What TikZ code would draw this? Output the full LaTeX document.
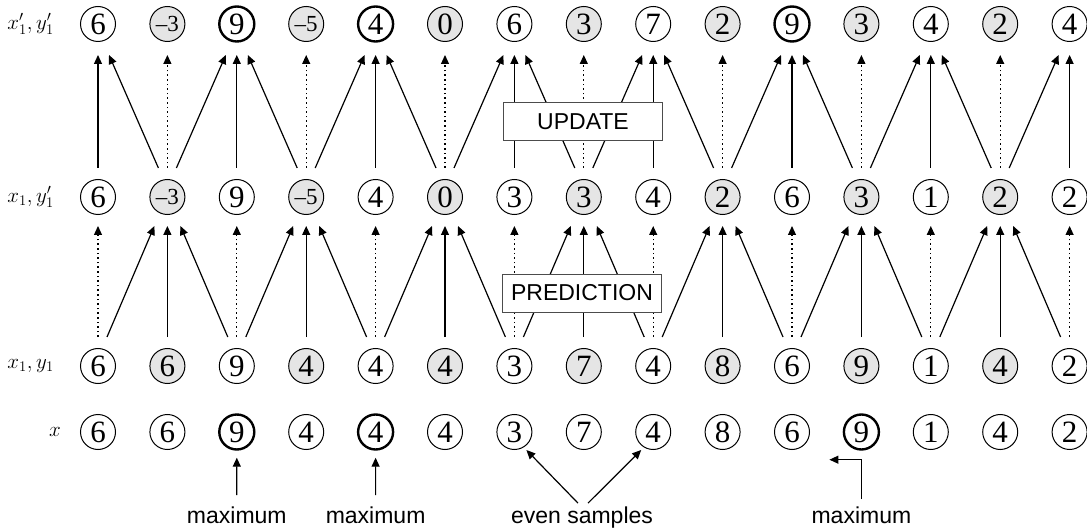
\RequirePackage{fix-cm}
\documentclass[tikz,border=0pt]{standalone}
\usepackage{fontspec}
\newfontfamily\numfont{Liberation Serif}
\newfontfamily\labfont{Liberation Sans}
\usetikzlibrary{arrows.meta,calc}

\begin{document}
\begin{tikzpicture}[x=1pt,y=-1pt,
  smp/.style={circle,draw,line width=1pt,minimum size=35pt,inner sep=0pt,
    font=\numfont\fontsize{31}{31}\selectfont},
  wh/.style={},
  gr/.style={fill=gray!20},
  gn/.style={gr,font=\numfont\fontsize{23}{23}\selectfont},
  pk/.style={line width=2.4pt},
  arr/.style={line width=1.2pt,-{Triangle[length=9pt,width=8pt]}},
  dotarr/.style={arr,dash pattern=on 1.6pt off 3pt},
  stage/.style={draw=black!70,fill=white,line width=0.9pt,minimum width=159pt,
    minimum height=38pt,inner sep=0pt,font=\labfont\fontsize{23}{23}\selectfont},
  note/.style={font=\labfont\fontsize{23}{23}\selectfont,inner sep=0pt,anchor=base},
  rowlab/.style={anchor=east,inner sep=0pt,font=\fontsize{21}{21}\selectfont}
]
\useasboundingbox (0,0) rectangle (1087,529);

% sample rows: t = x1',y1'   u = x1,y1'   p = x1,y1   s = x
\foreach \v/\st [count=\i] in {6/wh,\textendash 3/gn,9/pk,\textendash 5/gn,4/pk,0/gr,6/wh,3/gr,7/wh,2/gr,9/pk,3/gr,4/wh,2/gr,4/wh}
  \node[smp,\st] (t\i) at ({98+(\i-1)*69.4},24) {\v};
\foreach \v/\st [count=\i] in {6/wh,\textendash 3/gn,9/wh,\textendash 5/gn,4/wh,0/gr,3/wh,3/gr,4/wh,2/gr,6/wh,3/gr,1/wh,2/gr,2/wh}
  \node[smp,\st] (u\i) at ({98+(\i-1)*69.4},197) {\v};
\foreach \v/\st [count=\i] in {6/wh,6/gr,9/wh,4/gr,4/wh,4/gr,3/wh,7/gr,4/wh,8/gr,6/wh,9/gr,1/wh,4/gr,2/wh}
  \node[smp,\st] (p\i) at ({98+(\i-1)*69.4},366) {\v};
\foreach \v/\st [count=\i] in {6/wh,6/wh,9/pk,4/wh,4/pk,4/wh,3/wh,7/wh,4/wh,8/wh,6/wh,9/pk,1/wh,4/wh,2/wh}
  \node[smp,\st] (s\i) at ({98+(\i-1)*69.4},432) {\v};

% row labels
\node[rowlab] (l1) at (54,24) {$x_1',y_1'$};
\node[rowlab] (l2) at (54,197) {$x_1,y_1'$};
\node[rowlab] (l3) at (54,366) {$x_1,y_1$};
\node[rowlab] (l4) at (61,432) {$x$};

% prediction: odd samples from their neighbours, even samples copied
\foreach \j [evaluate=\j as \jm using int(\j-1), evaluate=\j as \jp using int(\j+1)] in {2,4,...,14} {
  \draw[arr] ($(p\jm)+(9,-29)$) -- ($(u\j)+(-13,29)$);
  \draw[arr] ($(p\j)+(0,-29)$) -- ($(u\j)+(0,29)$);
  \draw[arr] ($(p\jp)+(-9,-29)$) -- ($(u\j)+(13,29)$);
}
\foreach \j in {1,3,...,15}
  \draw[dotarr] ($(p\j)+(0,-29)$) -- ($(u\j)+(0,29)$);

% update: even samples from their neighbours, odd samples copied
\foreach \j [evaluate=\j as \jm using int(\j-1), evaluate=\j as \jp using int(\j+1)] in {1,3,...,15} {
  \ifnum\j>1 \draw[arr] ($(u\jm)+(9,-29)$) -- ($(t\j)+(-11,31)$); \fi
  \draw[arr] ($(u\j)+(0,-29)$) -- ($(t\j)+(0,31)$);
  \ifnum\j<15 \draw[arr] ($(u\jp)+(-9,-29)$) -- ($(t\j)+(11,31)$); \fi
}
\foreach \j in {2,4,...,14}
  \draw[dotarr] ($(u\j)+(0,-29)$) -- ($(t\j)+(0,31)$);

% stage boxes
\node[stage] (upd) at (583,121.5) {UPDATE};
\node[stage] (pred) at (582,293) {PREDICTION};

% annotations
\node[note] (m1) at (236.8,523) {maximum};
\node[note] (m2) at (375.6,523) {maximum};
\node[note] (ev) at (582,523) {even samples};
\node[note] (m3) at (861.4,523) {maximum};

\draw[arr] ($(m1.north)+(0,-11)$) -- ($(s3.south)+(0,7)$);
\draw[arr] ($(m2.north)+(0,-11)$) -- ($(s5.south)+(0,7)$);
\draw[arr] ($(ev.north)+(-4,-3)$) -- ($(s7)+(12,18)$);
\draw[arr] ($(ev.north)+(6,-3)$) -- ($(s9)+(-12,18)$);
\coordinate (elb) at ($(s12.south)+(-32,9)$);
\draw[arr] ($(m3.north)+(0,-7)$) |- (elb);
\end{tikzpicture}
\end{document}
